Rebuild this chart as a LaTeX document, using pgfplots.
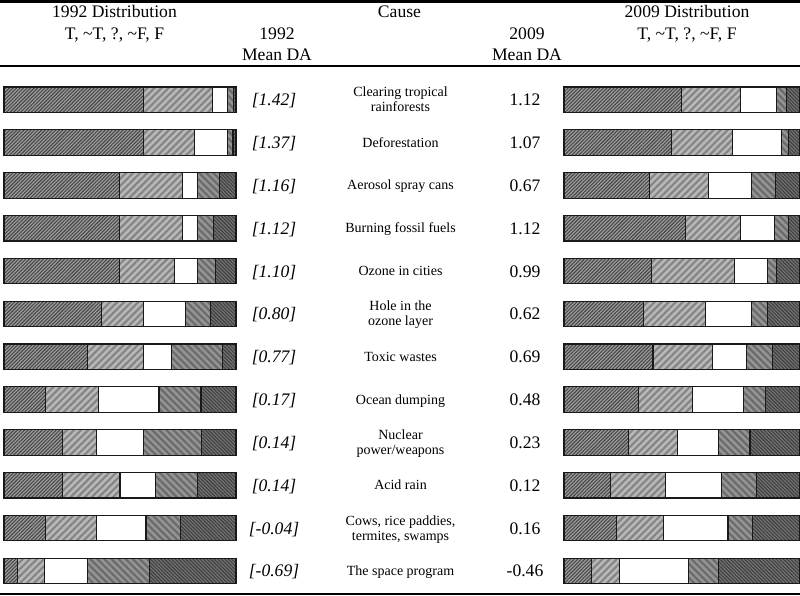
\documentclass[border=0pt]{standalone}
\usepackage{fontspec}
\setmainfont{Liberation Serif}
\usepackage{pgfplots}
\pgfplotsset{compat=1.18}
\usepackage{pgfplotstable}
\usetikzlibrary{patterns.meta}

% 1992 distribution (percent of respondents): T, ~T, ?, ~F, F
\pgfplotstableread{
row T nT Q nF F
1 60.1 29.9 6.5 2.3 1.2
2 60.1 22.0 14.2 2.4 1.3
3 49.7 27.3 6.3 9.5 7.2
4 49.7 27.3 6.3 6.9 9.8
5 49.7 23.6 10.1 7.9 8.7
6 42.0 18.2 18.0 10.8 11.0
7 35.9 24.3 11.9 22.0 5.9
8 17.8 23.1 25.9 18.1 15.1
9 25.3 14.7 20.3 24.9 14.8
10 25.3 24.7 15.2 18.1 16.7
11 17.8 22.1 21.3 14.8 24.0
12 5.7 11.9 18.2 27.0 37.2
}\dataA

% 2009 distribution
\pgfplotstableread{
row T nT Q nF F
1 49.7 25.1 15.3 4.2 5.7
2 45.6 25.8 20.9 3.0 4.7
3 36.2 25.0 18.2 10.2 10.4
4 51.4 23.4 14.5 5.8 4.9
5 37.1 35.3 13.7 4.0 9.9
6 33.6 26.3 19.4 7.1 13.6
7 37.7 25.3 14.5 10.7 11.8
8 31.5 22.9 21.5 9.6 14.5
9 27.5 20.5 17.5 13.3 21.2
10 19.6 23.4 23.7 14.7 18.6
11 22.3 19.9 27.3 10.3 20.2
12 11.6 12.0 29.0 13.0 34.4
}\dataB

\pgfplotsset{
  distaxis/.style={scale only axis, height=514bp, xmin=0, xmax=100,
    ymin=0.5, ymax=12.5, y dir=reverse, hide axis, xbar stacked,
    bar width=25.5bp, clip=false},
  segT/.style={draw=black!90, line width=1.1bp, preaction={fill=black!38},
    pattern={Lines[angle=45,distance=2.5bp,line width=1.1bp]}, pattern color=black!72},
  segnT/.style={draw=black!90, line width=1.1bp, preaction={fill=black!28},
    pattern={Lines[angle=45,distance=5bp,line width=2.2bp]}, pattern color=black!48},
  segQ/.style={draw=black!90, line width=1.1bp, fill=white},
  segnF/.style={draw=black!90, line width=1.1bp, preaction={fill=black!42},
    pattern={Lines[angle=-45,distance=5bp,line width=2.2bp]}, pattern color=black!58},
  segF/.style={draw=black!90, line width=1.1bp, preaction={fill=black!55},
    pattern={Lines[angle=-45,distance=2.5bp,line width=1.1bp]}, pattern color=black!75},
}

\begin{document}
\begin{tikzpicture}
\path[use as bounding box] (0,0) rectangle (800bp,596bp);

% rules
\draw[line width=2.5bp] (0,{596bp-1.3bp}) -- (800bp,{596bp-1.3bp});
\draw[line width=2.5bp] (0,{596bp-66bp}) -- (800bp,{596bp-66bp});
\draw[line width=2.3bp] (0,{596bp-594bp}) -- (800bp,{596bp-594bp});

% header
\begin{scope}[every node/.style={anchor=base, inner sep=0pt, font=\fontsize{17.6bp}{20bp}\selectfont}]
\node at (114.5bp,{596bp-18bp}) {1992 Distribution};
\node at (114.5bp,{596bp-39.5bp}) {T, \textasciitilde T, ?, \textasciitilde F, F};
\node at (277bp,{596bp-39.5bp}) {1992};
\node at (277bp,{596bp-61bp}) {Mean DA};
\node at (399.5bp,{596bp-18bp}) {Cause};
\node at (527bp,{596bp-39.5bp}) {2009};
\node at (527bp,{596bp-61bp}) {Mean DA};
\node at (687bp,{596bp-18bp}) {2009 Distribution};
\node at (687bp,{596bp-39.5bp}) {T, \textasciitilde T, ?, \textasciitilde F, F};
\end{scope}

% left bars
\begin{axis}[distaxis, width=232bp, at={(4bp,517.7bp)}, anchor=north west]
\addplot[segT]  table[x=T,  y=row] {\dataA};
\addplot[segnT] table[x=nT, y=row] {\dataA};
\addplot[segQ]  table[x=Q,  y=row] {\dataA};
\addplot[segnF] table[x=nF, y=row] {\dataA};
\addplot[segF]  table[x=F,  y=row] {\dataA};
\end{axis}

% right bars
\begin{axis}[distaxis, width=236bp, at={(564bp,517.7bp)}, anchor=north west]
\addplot[segT]  table[x=T,  y=row] {\dataB};
\addplot[segnT] table[x=nT, y=row] {\dataB};
\addplot[segQ]  table[x=Q,  y=row] {\dataB};
\addplot[segnF] table[x=nF, y=row] {\dataB};
\addplot[segF]  table[x=F,  y=row] {\dataB};
\end{axis}

% row texts
\foreach \i/\va/\ca/\cb/\vb in {
 1/1.42/Clearing tropical/rainforests/1.12,
 2/1.37/Deforestation//1.07,
 3/1.16/Aerosol spray cans//0.67,
 4/1.12/Burning fossil fuels//1.12,
 5/1.10/Ozone in cities//0.99,
 6/0.80/Hole in the/ozone layer/0.62,
 7/0.77/Toxic wastes//0.69,
 8/0.17/Ocean dumping//0.48,
 9/0.14/Nuclear/power\slash weapons/0.23,
 10/0.14/Acid rain//0.12,
 11/-0.04/{Cows, rice paddies,}/{termites, swamps}/0.16,
 12/-0.69/The space program//-0.46}{
  \pgfmathsetmacro\yc{596-(99.7+42.83*(\i-1))}
  \node[anchor=base, inner sep=0pt, font=\fontsize{17.6bp}{20bp}\selectfont\itshape]
    at (274bp,{(\yc-6)*1bp}) {[\va]};
  \node[anchor=base, inner sep=0pt, font=\fontsize{17.6bp}{20bp}\selectfont]
    at (525bp,{(\yc-6)*1bp}) {\vb};
  \ifx\cb\empty
    \node[anchor=base, inner sep=0pt, font=\fontsize{14bp}{15bp}\selectfont]
      at (400.5bp,{(\yc-4.6)*1bp}) {\ca};
  \else
    \node[anchor=base, inner sep=0pt, font=\fontsize{14bp}{15bp}\selectfont]
      at (400.5bp,{(\yc+2.9)*1bp}) {\ca};
    \node[anchor=base, inner sep=0pt, font=\fontsize{14bp}{15bp}\selectfont]
      at (400.5bp,{(\yc-12.1)*1bp}) {\cb};
  \fi
}
\end{tikzpicture}
\end{document}
